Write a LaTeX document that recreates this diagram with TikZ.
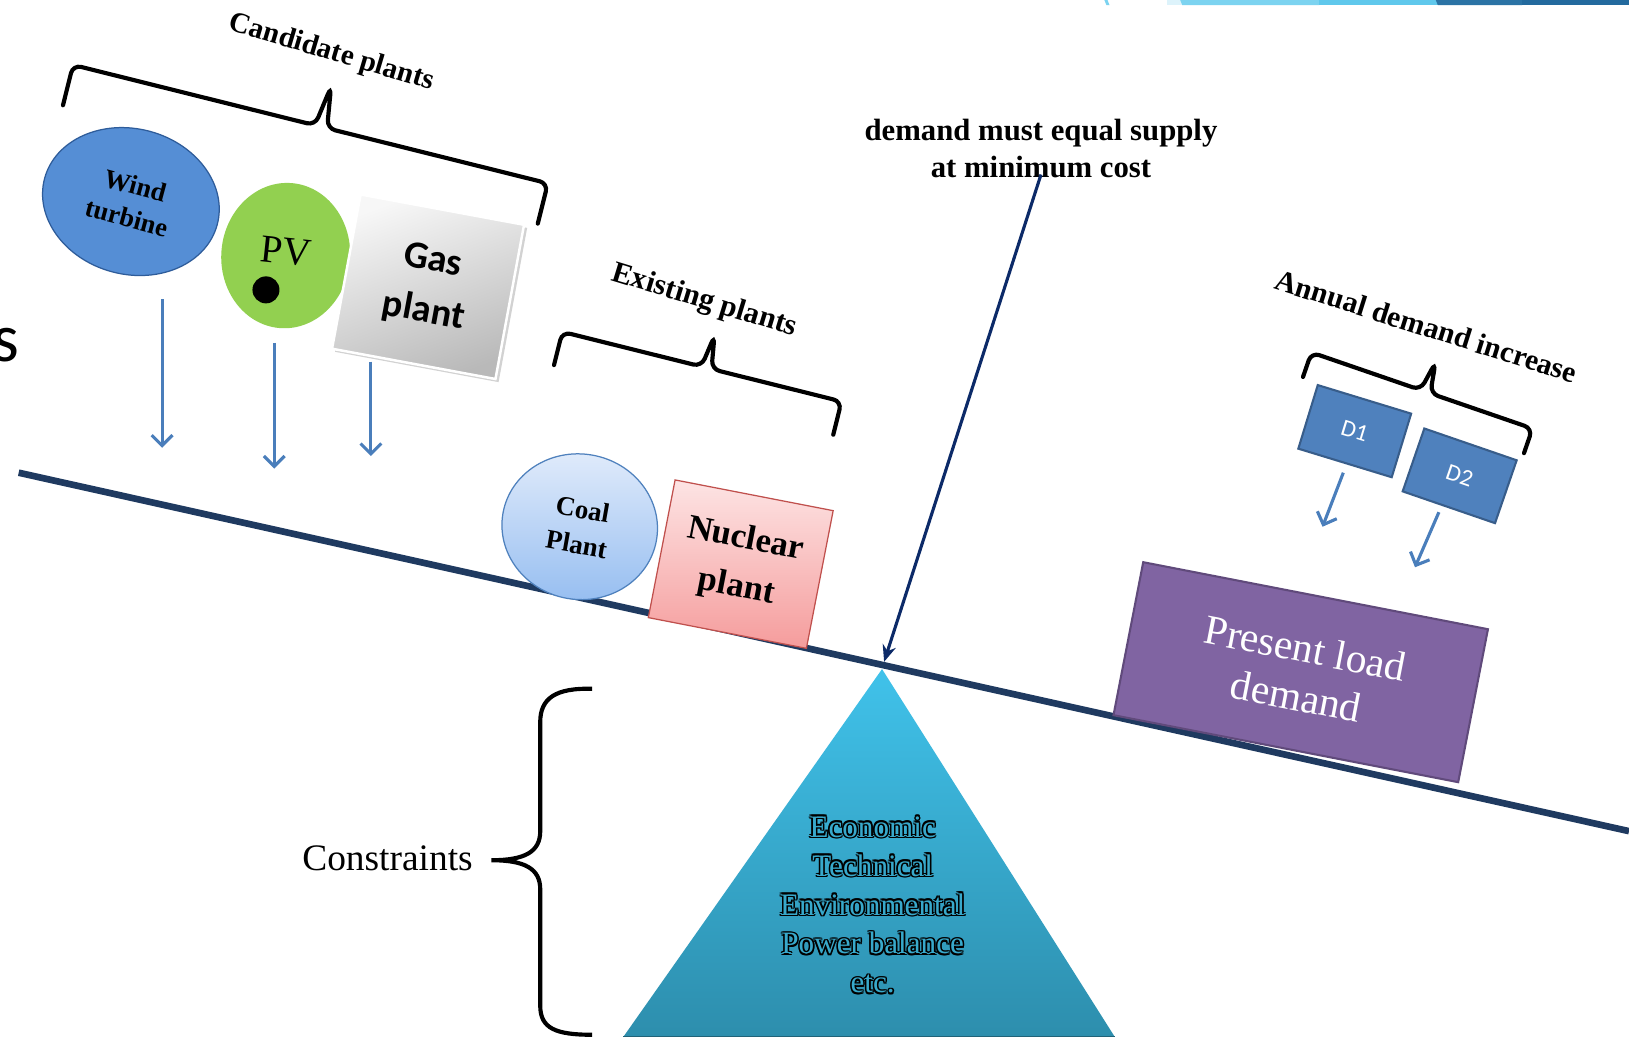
\documentclass[tikz,border=0pt]{standalone}
\usepackage{fontspec}
\setmainfont{Liberation Serif}
\newfontfamily\calib{Carlito}
\usetikzlibrary{shapes.geometric,arrows.meta,calc}
\definecolor{beamc}{HTML}{1F3A60}
\definecolor{windfill}{HTML}{558ED5}
\definecolor{windborder}{HTML}{2E5C9A}
\definecolor{pvgreen}{HTML}{92D050}
\definecolor{coaltop}{HTML}{E2ECFB}
\definecolor{coalbot}{HTML}{98BFF1}
\definecolor{coalborder}{HTML}{4F81BD}
\definecolor{nuctop}{HTML}{FDE4E4}
\definecolor{nucbot}{HTML}{F59C9C}
\definecolor{nucborder}{HTML}{C0504D}
\definecolor{presfill}{HTML}{8064A2}
\definecolor{presborder}{HTML}{604A7B}
\definecolor{dblue}{HTML}{4F81BD}
\definecolor{dborder}{HTML}{385D8A}
\definecolor{arrowblue}{HTML}{4A7EBB}
\definecolor{navy}{HTML}{0C2A68}
\definecolor{tritop}{HTML}{40C2EA}
\definecolor{tribot}{HTML}{2D8EAD}
\definecolor{triin}{HTML}{38A9CB}
\definecolor{barA}{HTML}{DDF3FB}
\definecolor{barB}{HTML}{7CD3F0}
\definecolor{barC}{HTML}{60C8EC}
\definecolor{barD}{HTML}{2B73A5}
\definecolor{barE}{HTML}{236A9E}
\newcommand\outlinedtext[3]{%
  \foreach \ox/\oy in {0.75/0,-0.75/0,0/0.75,0/-0.75,0.53/0.53,0.53/-0.53,-0.53/0.53,-0.53/-0.53}{%
    \node[tritext,text=black,xshift=\ox pt,yshift=\oy pt] at (#2) {#3};}%
  \node[tritext,text=triin] (#1) at (#2) {#3};}
\begin{document}
\begin{tikzpicture}[x=0.5pt,y=-0.5pt,
  lbl/.style={font=\fontsize{14.3pt}{17pt}\selectfont\bfseries, inner sep=0},
  bracepath/.style={draw=black, line width=2pt, rounded corners=4pt, line cap=round},
  barrow/.style={draw=arrowblue, line width=1.5pt, -{Straight Barb[length=5pt,width=10pt,line width=1.5pt]}},
  navyarrow/.style={draw=navy, line width=1.5pt, -{Stealth[length=8pt,width=6.5pt]}},
  beamline/.style={draw=beamc, line width=3.2pt},
  dbox/.style={rectangle, fill=dblue, draw=dborder, line width=1pt, minimum width=47pt, minimum height=32pt, text=white, font=\calib\fontsize{11.5pt}{13pt}\selectfont},
  tritext/.style={align=center, inner sep=0, font=\fontsize{15pt}{18.75pt}\selectfont},
]
\useasboundingbox (0,0) rectangle (1568,998);
\fill[white] (0,0) rectangle (1568,998);

% top decoration bar
\fill[barA] (1123,0) rectangle (1138,5);
\fill[barB] (1136,0) -- (1270,0) -- (1270,5) -- (1138,5) -- cycle;
\fill[barC] (1270,0) rectangle (1384,5);
\fill[barD] (1382,0) -- (1465,0) -- (1465,5) -- (1384,5) -- cycle;
\fill[barE] (1465,0) rectangle (1568,5);
\fill[barB] (1063,0) -- (1066,0) -- (1068,5) -- (1065,5) -- cycle;

% cut letter at left edge
\node[font=\calib\fontsize{33pt}{36pt}\selectfont, anchor=base east, inner sep=0] (sletter) at (19,348) {s};

% beam
\coordinate (beamL) at (18,455);
\coordinate (beamR) at (1568,800);
\draw[beamline] (beamL) -- (beamR);

% candidate plants
\node[lbl, rotate=-16.5, font=\fontsize{14pt}{17pt}\selectfont\bfseries] (candlbl) at (319,51) {Candidate plants};
\begin{scope}[shift={(309,122)}, rotate=-14]
  \draw[bracepath] (-246,40) -- (-246,0) -- (-6,0) -- (0,-40) -- (6,0) -- (225,0) -- (225,40);
\end{scope}

\node[ellipse, draw=windborder, line width=0.6pt, fill=windfill, minimum width=86pt, minimum height=70pt, rotate=-15, inner sep=0, align=center, font=\fontsize{12.8pt}{16pt}\selectfont\bfseries] (wind) at (126,194) {Wind\\turbine};
\node[ellipse, fill=pvgreen, minimum width=62pt, minimum height=70pt, rotate=-5, inner sep=0] (pv) at (275,246) {};
\node[rotate=-6, inner sep=0, font=\fontsize{19pt}{22pt}\selectfont] (pvtext) at (275,242) {PV};
\node[circle, fill=black, minimum size=13pt, inner sep=0] (pvdot) at (256,279) {};
\node[rectangle, fill=gray!35, minimum width=80pt, minimum height=75.5pt, rotate=-10.5, inner sep=0] (gasshadow) at (415,279) {};
\node[rectangle, draw=white, line width=1.2pt, top color=gray!6, bottom color=gray!55, shading angle=20, minimum width=80pt, minimum height=75.5pt, rotate=-10.5, align=center, inner sep=0, font=\calib\bfseries\fontsize{18.5pt}{25pt}\selectfont] (gas) at (412,276) {Gas\\plant};

\coordinate (a1s) at (156,288); \coordinate (a1e) at (156,431);
\coordinate (a2s) at (264,330); \coordinate (a2e) at (264,451);
\coordinate (a3s) at (357,348); \coordinate (a3e) at (357,439);
\draw[barrow] (a1s) -- (a1e);
\draw[barrow] (a2s) -- (a2e);
\draw[barrow] (a3s) -- (a3e);

% existing plants
\node[lbl, rotate=-17, font=\fontsize{14.5pt}{17pt}\selectfont\bfseries] (exlbl) at (678,290) {Existing plants};
\begin{scope}[shift={(680,354)}, rotate=-14]
  \draw[bracepath] (-143,33) -- (-143,0) -- (-5,0) -- (0,-32) -- (5,0) -- (134,0) -- (134,33);
\end{scope}
\node[ellipse, draw=coalborder, line width=0.6pt, top color=coaltop, bottom color=coalbot, minimum width=75pt, minimum height=70pt, rotate=-10, inner sep=0, align=center, font=\fontsize{13pt}{17pt}\selectfont\bfseries] (coal) at (558,507) {Coal\\Plant};
\node[rectangle, draw=nucborder, line width=0.6pt, top color=nuctop, bottom color=nucbot, minimum width=77.5pt, minimum height=67.5pt, rotate=-11, inner sep=0, align=center, font=\fontsize{16.7pt}{23.5pt}\selectfont\bfseries] (nuclear) at (713,543) {Nuclear\\plant};

% annual demand increase
\node[lbl, rotate=-17.5] (anlbl) at (1373,314) {Annual demand increase};
\begin{scope}[shift={(1372,377)}, rotate=-19]
  \draw[bracepath] (-116,25) -- (-116,0) -- (-5,0) -- (0,-30) -- (5,0) -- (109,0) -- (109,25);
\end{scope}
\node[dbox, rotate=-17] (d1) at (1304,415) {D1};
\node[dbox, rotate=-19] (d2) at (1405,458) {D2};
\coordinate (d1s) at (1293,455); \coordinate (d1e) at (1273,507);
\coordinate (d2s) at (1385,493); \coordinate (d2e) at (1362,546);
\draw[barrow] (d1s) -- (d1e);
\draw[barrow] (d2s) -- (d2e);

\node[rectangle, draw=presborder, line width=1pt, fill=presfill, minimum width=169pt, minimum height=75pt, rotate=-11, inner sep=0, align=center, text=white, font=\fontsize{20pt}{23.5pt}\selectfont] (present) at (1252,647) {Present load\\demand};

% fulcrum
\coordinate (apex) at (849,644);
\coordinate (tribl) at (600,998);
\coordinate (tribr) at (1073,998);
\shade[top color=tritop, bottom color=tribot] (apex) -- (tribr) -- (tribl) -- cycle;
\draw[draw=tribot!70!black, line width=1pt] (tribl) -- (tribr);
\outlinedtext{tritxt}{840,871}{Economic\\Technical\\Environmental\\Power balance\\etc.}

% constraints
\node[inner sep=0, font=\fontsize{18pt}{20pt}\selectfont] (constraints) at (373,826) {Constraints};
\coordinate (cbt) at (570,663);
\coordinate (cbm) at (473,828);
\coordinate (cbb) at (570,996);
\draw[draw=black, line width=2pt] (cbt) .. controls (535,662) and (520,672) .. (520,695) -- (520,800) .. controls (520,820) and (505,828) .. (cbm) .. controls (505,828) and (520,836) .. (520,856) -- (520,968) .. controls (520,990) and (535,996) .. (cbb);

% demand arrow
\node[align=center, inner sep=0, font=\fontsize{14.8pt}{17.5pt}\selectfont\bfseries] (demand) at (1002,143) {demand must equal supply\\at minimum cost};
\coordinate (dstart) at (1002,168);
\coordinate (pivot) at (851,637);
\draw[navyarrow] (dstart) -- (pivot);
\end{tikzpicture}
\end{document}
